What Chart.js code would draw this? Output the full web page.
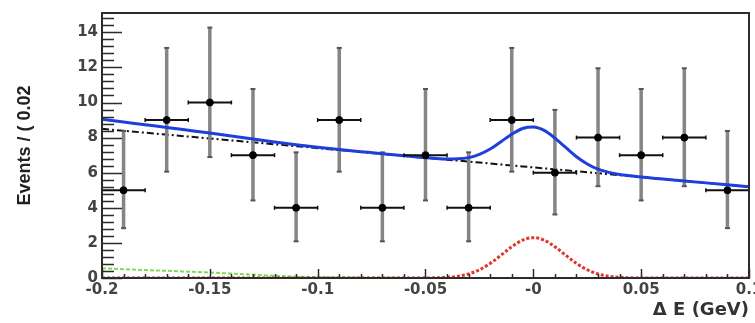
<!DOCTYPE html>
<html>
<head>
<meta charset="utf-8">
<title>Delta E fit</title>
<script src="https://cdn.jsdelivr.net/npm/chart.js@4.4.1/dist/chart.umd.min.js"></script>
<style>
  html, body { margin: 0; padding: 0; background: #fff; }
</style>
</head>
<body>
<canvas id="chart" width="755" height="323"></canvas>
<script>
// Histogram of Delta E (GeV), bins of 0.02
const binCenters = [-0.19, -0.17, -0.15, -0.13, -0.11, -0.09, -0.07, -0.05, -0.03, -0.01, 0.01, 0.03, 0.05, 0.07, 0.09];
const counts = [5, 9, 10, 7, 4, 9, 4, 7, 4, 9, 6, 8, 7, 8, 5];
const errLow = [2.84, 6.06, 6.89, 4.42, 2.09, 6.06, 2.09, 4.42, 2.09, 6.06, 3.62, 5.23, 4.42, 5.23, 2.84];
const errHigh = [8.38, 13.11, 14.27, 10.77, 7.16, 13.11, 7.16, 10.77, 7.16, 13.11, 9.58, 11.95, 10.77, 11.95, 8.38];
const binHalfWidth = 0.01;

// Fit components read along Delta E
const curveX = [-0.2, -0.19, -0.18, -0.17, -0.16, -0.15, -0.14, -0.13, -0.12, -0.11, -0.1, -0.09, -0.08, -0.07, -0.06, -0.05,
  -0.045, -0.04, -0.035, -0.03, -0.025, -0.02, -0.015, -0.01, -0.005, 0, 0.005, 0.01, 0.015, 0.02, 0.025, 0.03, 0.035, 0.04, 0.045,
  0.05, 0.06, 0.07, 0.08, 0.09, 0.1];
const totalFit = [9.05, 8.89, 8.73, 8.58, 8.42, 8.26, 8.09, 7.92, 7.75, 7.59, 7.45, 7.32, 7.2, 7.08, 6.97, 6.85,
  6.81, 6.78, 6.79, 6.86, 7.05, 7.35, 7.77, 8.19, 8.52, 8.6, 8.41, 7.97, 7.44, 6.91, 6.5, 6.2, 6.02, 5.9, 5.82,
  5.75, 5.64, 5.53, 5.42, 5.31, 5.2];
const combBkg = [8.5, 8.39, 8.28, 8.17, 8.06, 7.95, 7.84, 7.73, 7.62, 7.51, 7.4, 7.29, 7.18, 7.07, 6.96, 6.85,
  6.8, 6.74, 6.69, 6.63, 6.58, 6.52, 6.47, 6.41, 6.36, 6.3, 6.25, 6.19, 6.14, 6.08, 6.03, 5.97, 5.92, 5.86, 5.81,
  5.75, 5.64, 5.53, 5.42, 5.31, 5.2];
const peakBkg = [0.55, 0.5, 0.45, 0.41, 0.36, 0.31, 0.25, 0.19, 0.13, 0.08, 0.05, 0.03, 0.02, 0.01, 0.01, 0,
  0, 0, 0, 0, 0, 0, 0, 0, 0, 0, 0, 0, 0, 0, 0, 0, 0, 0, 0,
  0, 0, 0, 0, 0, 0];
const signal = [0, 0, 0, 0, 0, 0, 0, 0, 0, 0, 0, 0, 0, 0, 0, 0,
  0.01, 0.04, 0.1, 0.23, 0.47, 0.83, 1.3, 1.78, 2.16, 2.3, 2.16, 1.78, 1.3, 0.83, 0.47, 0.23, 0.1, 0.04, 0.01,
  0, 0, 0, 0, 0, 0];

// Axis labels
const xTickLabels = ['-0.2', '-0.15', '-0.1', '-0.05', '-0', '0.05', '0.1'];
const yTickLabels = ['0', '2', '4', '6', '8', '10', '12', '14'];

Chart.defaults.font.family = "'DejaVu Sans', sans-serif";

// Function to pair x and y arrays into points
function toPoints(xs, ys) {
  return xs.map((x, i) => ({ x: x, y: ys[i] }));
}

// Function to build the vertical error bars, split by null gaps
function verticalBars() {
  const pts = [];
  binCenters.forEach((x, i) => {
    pts.push({ x: x, y: errLow[i] }, { x: x, y: errHigh[i] }, { x: x, y: null });
  });
  return pts;
}

// Function to build the horizontal bin-width bars
function horizontalBars() {
  const pts = [];
  binCenters.forEach((x, i) => {
    pts.push({ x: x - binHalfWidth, y: counts[i] }, { x: x + binHalfWidth, y: counts[i] }, { x: x, y: null });
  });
  return pts;
}

// Frame with inward ROOT-style ticks
const frameTicks = {
  id: 'frameTicks',
  afterDatasetsDraw(chart) {
    const { ctx, chartArea: a, scales: { x, y } } = chart;
    ctx.save();
    ctx.strokeStyle = '#2b2b2b';
    ctx.lineWidth = 1.5;
    ctx.beginPath();
    for (let k = 0; k * 0.4 <= y.max + 1e-9; k++) {
      const py = Math.round(y.getPixelForValue(k * 0.4)) + 0.5;
      const len = k % 5 === 0 ? 20 : 12;
      ctx.moveTo(a.left, py);
      ctx.lineTo(a.left + len, py);
    }
    for (let k = 0; x.min + k * 0.01 <= x.max + 1e-9; k++) {
      const px = Math.round(x.getPixelForValue(x.min + k * 0.01)) + 0.5;
      const len = k % 5 === 0 ? 9 : 4;
      ctx.moveTo(px, a.bottom);
      ctx.lineTo(px, a.bottom - len);
    }
    ctx.stroke();
    ctx.lineWidth = 2;
    ctx.strokeRect(a.left, a.top, a.right - a.left, a.bottom - a.top);
    ctx.restore();
  }
};

const ctx = document.getElementById('chart').getContext('2d');
const chart = new Chart(ctx, {
  type: 'line',
  data: {
    datasets: [
      {
        label: 'Data',
        data: toPoints(binCenters, counts),
        showLine: false,
        pointRadius: 3.5,
        pointBackgroundColor: '#000',
        pointBorderColor: '#000',
      },
      {
        label: 'Bin width',
        data: horizontalBars(),
        borderColor: '#111',
        borderWidth: 2,
        pointStyle: 'line',
        pointRotation: 90,
        pointRadius: 2,
        pointBorderColor: '#111',
        pointBorderWidth: 1.5,
      },
      {
        label: 'Total fit',
        data: toPoints(curveX, totalFit),
        borderColor: '#1f3fdc',
        borderWidth: 3,
        pointRadius: 0,
        cubicInterpolationMode: 'monotone',
      },
      {
        label: 'Errors',
        data: verticalBars(),
        borderColor: '#858585',
        borderWidth: 3.5,
        pointStyle: 'line',
        pointRadius: 2.5,
        pointBorderColor: '#555',
        pointBorderWidth: 2,
      },
      {
        label: 'Continuum',
        data: toPoints(curveX, combBkg),
        borderColor: '#111',
        borderWidth: 2,
        borderDash: [7, 3, 2, 3],
        pointRadius: 0,
      },
      {
        label: 'Signal',
        data: toPoints(curveX, signal),
        borderColor: '#e0352a',
        borderWidth: 3,
        borderDash: [3, 2],
        pointRadius: 0,
        cubicInterpolationMode: 'monotone',
      },
      {
        label: 'Peaking bkg',
        data: toPoints(curveX, peakBkg),
        borderColor: '#7ddc55',
        borderWidth: 2,
        borderDash: [4, 2],
        pointRadius: 0,
        cubicInterpolationMode: 'monotone',
      },
    ],
  },
  options: {
    responsive: false,
    animation: false,
    layout: { padding: { top: 7, right: 1, left: 0, bottom: 0 } },
    plugins: {
      legend: { display: false },
      tooltip: { enabled: false },
    },
    scales: {
      x: {
        type: 'linear',
        min: -0.2,
        max: 0.1,
        grid: { display: false, drawTicks: false },
        border: { display: false },
        ticks: {
          stepSize: 0.05,
          includeBounds: false,
          autoSkip: false,
          maxRotation: 0,
          padding: 3,
          color: '#444',
          font: { size: 15, weight: 'bold' },
          callback: (value, index) => xTickLabels[index],
        },
        title: {
          display: true,
          text: 'Δ E (GeV)',
          align: 'end',
          color: '#333',
          font: { size: 18, weight: 'bold' },
          padding: { top: 0, bottom: 2 },
        },
        afterFit: (scale) => {
          scale.height = 45;
          scale.paddingLeft = 0;
          scale.paddingRight = 0;
        },
      },
      y: {
        min: 0,
        max: 15.1,
        grid: { display: false, drawTicks: false },
        border: { display: false },
        ticks: {
          stepSize: 2,
          includeBounds: false,
          padding: 4,
          color: '#444',
          font: { size: 15, weight: 'bold' },
          callback: (value, index) => yTickLabels[index],
        },
        title: {
          display: true,
          text: 'Events / ( 0.02',
          color: '#222',
          font: { family: "'Liberation Sans', sans-serif", size: 18, weight: 'bold' },
          padding: { top: 14, bottom: 0 },
        },
        afterFit: (scale) => {
          scale.width = 102;
        },
      },
    },
  },
  plugins: [frameTicks],
});
</script>
</body>
</html>
